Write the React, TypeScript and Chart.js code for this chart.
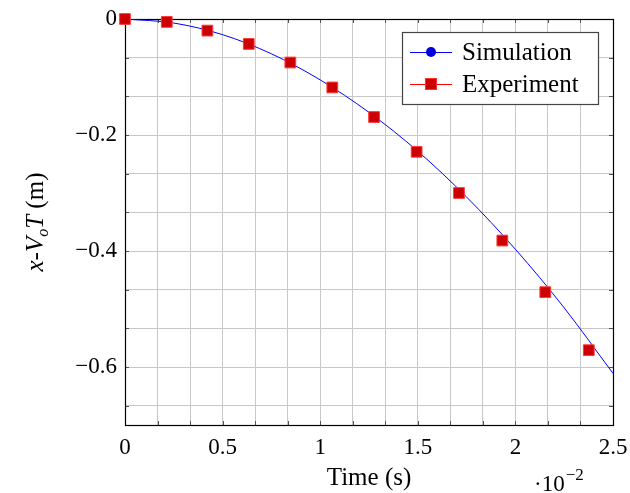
import React, { useEffect, useRef } from 'react';
import { Chart, registerables } from 'chart.js';

Chart.register(...registerables);

// Time in units of 1e-2 s, displacement x - Vo*T in m
const simTime = [0, 0.25, 0.5, 0.75, 1.0, 1.25, 1.5, 1.75, 2.0, 2.25, 2.5];
const simDisp = [0, -0.007, -0.027, -0.060, -0.105, -0.161, -0.228, -0.307, -0.397, -0.498, -0.611];

const expTime = [0, 0.214, 0.422, 0.634, 0.847, 1.062, 1.276, 1.494, 1.711, 1.933, 2.153, 2.376];
const expDisp = [0, -0.005, -0.020, -0.043, -0.075, -0.118, -0.169, -0.229, -0.300, -0.382, -0.471, -0.571];

const xMajorTicks = [0, 0.5, 1, 1.5, 2, 2.5];
const yMajorTicks = [0, -0.2, -0.4, -0.6];
const minorPerMajor = 3; // grid subdivisions per major interval

const seriesNames = ['Simulation', 'Experiment'];

const FONT = '"Liberation Serif", "DejaVu Serif", serif';

function buildTicks(majors: number[], limit: number) {
  const out: number[] = [];
  const step = (majors[1] - majors[0]) / minorPerMajor;
  for (let i = 0; ; i++) {
    const v = majors[0] + i * step;
    if ((step > 0 && v > limit + 1e-9) || (step < 0 && v < limit - 1e-9)) break;
    out.push(v);
  }
  return out;
}

function isMajor(v: number, majors: number[]) {
  return majors.some((m) => Math.abs(m - v) < 1e-6);
}

const framePlugin = {
  id: 'frame',
  beforeDatasetsDraw(chart: any) {
    const { ctx, chartArea: a, scales } = chart;
    ctx.save();
    ctx.strokeStyle = '#555555';
    ctx.lineWidth = 1;
    const tl = 4;
    ctx.beginPath();
    scales.x.ticks.forEach((t: any) => {
      const px = Math.round(scales.x.getPixelForValue(t.value)) + 0.5;
      ctx.moveTo(px, a.bottom);
      ctx.lineTo(px, a.bottom - tl);
      ctx.moveTo(px, a.top);
      ctx.lineTo(px, a.top + tl);
    });
    scales.y.ticks.forEach((t: any) => {
      const py = Math.round(scales.y.getPixelForValue(t.value)) + 0.5;
      ctx.moveTo(a.left, py);
      ctx.lineTo(a.left + tl, py);
      ctx.moveTo(a.right, py);
      ctx.lineTo(a.right - tl, py);
    });
    ctx.stroke();
    ctx.strokeStyle = '#000000';
    ctx.lineWidth = 1.2;
    ctx.strokeRect(Math.round(a.left) + 0.5, Math.round(a.top) + 0.5, Math.round(a.right - a.left), Math.round(a.bottom - a.top));
    ctx.restore();
  },
  afterDraw(chart: any) {
    const { ctx, chartArea: a } = chart;
    ctx.save();
    ctx.fillStyle = '#000';
    // x title
    ctx.font = `25px ${FONT}`;
    ctx.textAlign = 'center';
    ctx.textBaseline = 'alphabetic';
    ctx.fillText('Time (s)', (a.left + a.right) / 2, 485);
    // exponent
    ctx.textAlign = 'left';
    ctx.font = `23px ${FONT}`;
    ctx.fillText('\u00B710', 534, 491);
    const w10 = ctx.measureText('\u00B710').width;
    ctx.font = `17px ${FONT}`;
    ctx.fillText('\u22122', 534 + w10 + 1, 480);

    // y title (rotated)
    const segs: [string, string, number][] = [
      ['x', `italic 25px ${FONT}`, 0],
      ['-', `25px ${FONT}`, 0],
      ['V', `italic 25px ${FONT}`, 0],
      ['o', `italic 16px ${FONT}`, 5],
      ['T', `italic 25px ${FONT}`, 0],
      [' (m)', `25px ${FONT}`, 0],
    ];
    let total = 0;
    const widths = segs.map(([t, f]) => {
      ctx.font = f;
      const w = ctx.measureText(t).width;
      total += w;
      return w;
    });
    ctx.translate(43, (a.top + a.bottom) / 2);
    ctx.rotate(-Math.PI / 2);
    let cx = -total / 2;
    segs.forEach(([t, f, dy], i) => {
      ctx.font = f;
      ctx.fillText(t, cx, dy);
      cx += widths[i];
    });
    ctx.restore();

    // legend
    ctx.save();
    const lx = 402, ly = 32, lw = 196, lh = 72;
    ctx.fillStyle = '#ffffff';
    ctx.fillRect(lx, ly, lw, lh);
    ctx.strokeStyle = '#444444';
    ctx.lineWidth = 1.2;
    ctx.strokeRect(lx + 0.5, ly + 0.5, lw, lh);
    const rows = [52, 84];
    // simulation
    ctx.strokeStyle = '#0000ff';
    ctx.lineWidth = 1;
    ctx.beginPath();
    ctx.moveTo(410, rows[0] + 0.5);
    ctx.lineTo(452, rows[0] + 0.5);
    ctx.stroke();
    ctx.fillStyle = '#0000dd';
    ctx.beginPath();
    ctx.arc(431, rows[0], 5, 0, Math.PI * 2);
    ctx.fill();
    // experiment
    ctx.strokeStyle = '#ff0000';
    ctx.beginPath();
    ctx.moveTo(410, rows[1] + 0.5);
    ctx.lineTo(452, rows[1] + 0.5);
    ctx.stroke();
    ctx.fillStyle = '#cc0000';
    ctx.fillRect(426, rows[1] - 5, 10, 10);
    ctx.strokeStyle = '#ff3030';
    ctx.strokeRect(425.5, rows[1] - 5.5, 11, 11);
    ctx.fillStyle = '#000';
    ctx.font = `25px ${FONT}`;
    ctx.textAlign = 'left';
    ctx.textBaseline = 'middle';
    ctx.fillText(seriesNames[0], 462, rows[0] + 1);
    ctx.fillText(seriesNames[1], 462, rows[1] + 1);
    ctx.restore();
  },
};

export default function App() {
  const ref = useRef<HTMLCanvasElement | null>(null);

  useEffect(() => {
    if (!ref.current) return;
    const simData = simTime.map((t, i) => ({ x: t, y: simDisp[i] }));
    const expData = expTime.map((t, i) => ({ x: t, y: expDisp[i] }));

    const chart = new Chart(ref.current, {
      type: 'line',
      data: {
        datasets: [
          {
            label: seriesNames[1],
            data: expData,
            showLine: false,
            pointStyle: 'rect',
            pointRadius: 7.6,
            pointHoverRadius: 7.6,
            backgroundColor: '#cc0000',
            borderColor: '#ff3a3a',
            pointBorderWidth: 1,
            order: 0,
            clip: false as any,
          },
          {
            label: seriesNames[0],
            data: simData,
            borderColor: '#0000ff',
            borderWidth: 1,
            pointRadius: 0,
            cubicInterpolationMode: 'monotone',
            fill: false,
            order: 1,
          },
        ],
      },
      options: {
        animation: false,
        responsive: false,
        maintainAspectRatio: false,
        events: [],
        layout: { padding: { left: 0, top: 19, right: 17, bottom: 0 } },
        plugins: {
          legend: { display: false },
          tooltip: { enabled: false },
        },
        scales: {
          x: {
            type: 'linear',
            min: 0,
            max: 2.5,
            afterBuildTicks: (scale: any) => {
              scale.ticks = buildTicks(xMajorTicks, 2.5).map((v) => ({ value: v }));
            },
            afterFit: (scale: any) => {
              scale.height = 68;
              scale.paddingLeft = 0;
              scale.paddingRight = 0;
            },
            ticks: {
              autoSkip: false,
              maxRotation: 0,
              padding: 9,
              color: '#000',
              font: { family: FONT, size: 23 },
              callback: (v: any) => (isMajor(Number(v), xMajorTicks) ? String(Math.round(Number(v) * 2) / 2) : ''),
            },
            grid: { color: '#c8c8c8', lineWidth: 1, drawTicks: false },
            border: { display: false },
          },
          y: {
            type: 'linear',
            min: -0.7,
            max: 0,
            afterBuildTicks: (scale: any) => {
              scale.ticks = buildTicks(yMajorTicks, -0.7).map((v) => ({ value: v }));
            },
            afterFit: (scale: any) => {
              scale.width = 125;
              scale.paddingTop = 0;
              scale.paddingBottom = 0;
            },
            ticks: {
              autoSkip: false,
              padding: 8,
              color: '#000',
              font: { family: FONT, size: 23 },
              callback: (v: any) => {
                const n = Number(v);
                if (!isMajor(n, yMajorTicks)) return '';
                if (Math.abs(n) < 1e-9) return '0';
                return '\u2212' + Math.abs(n).toFixed(1);
              },
            },
            grid: { color: '#c8c8c8', lineWidth: 1, drawTicks: false },
            border: { display: false },
          },
        },
      },
      plugins: [framePlugin],
    } as any);

    return () => chart.destroy();
  }, []);

  return (
    <div style={{ position: 'fixed', left: 0, top: 0, width: 630, height: 493, background: '#fff' }}>
      <canvas ref={ref} width={630} height={493} style={{ width: 630, height: 493, display: 'block' }} />
    </div>
  );
}
